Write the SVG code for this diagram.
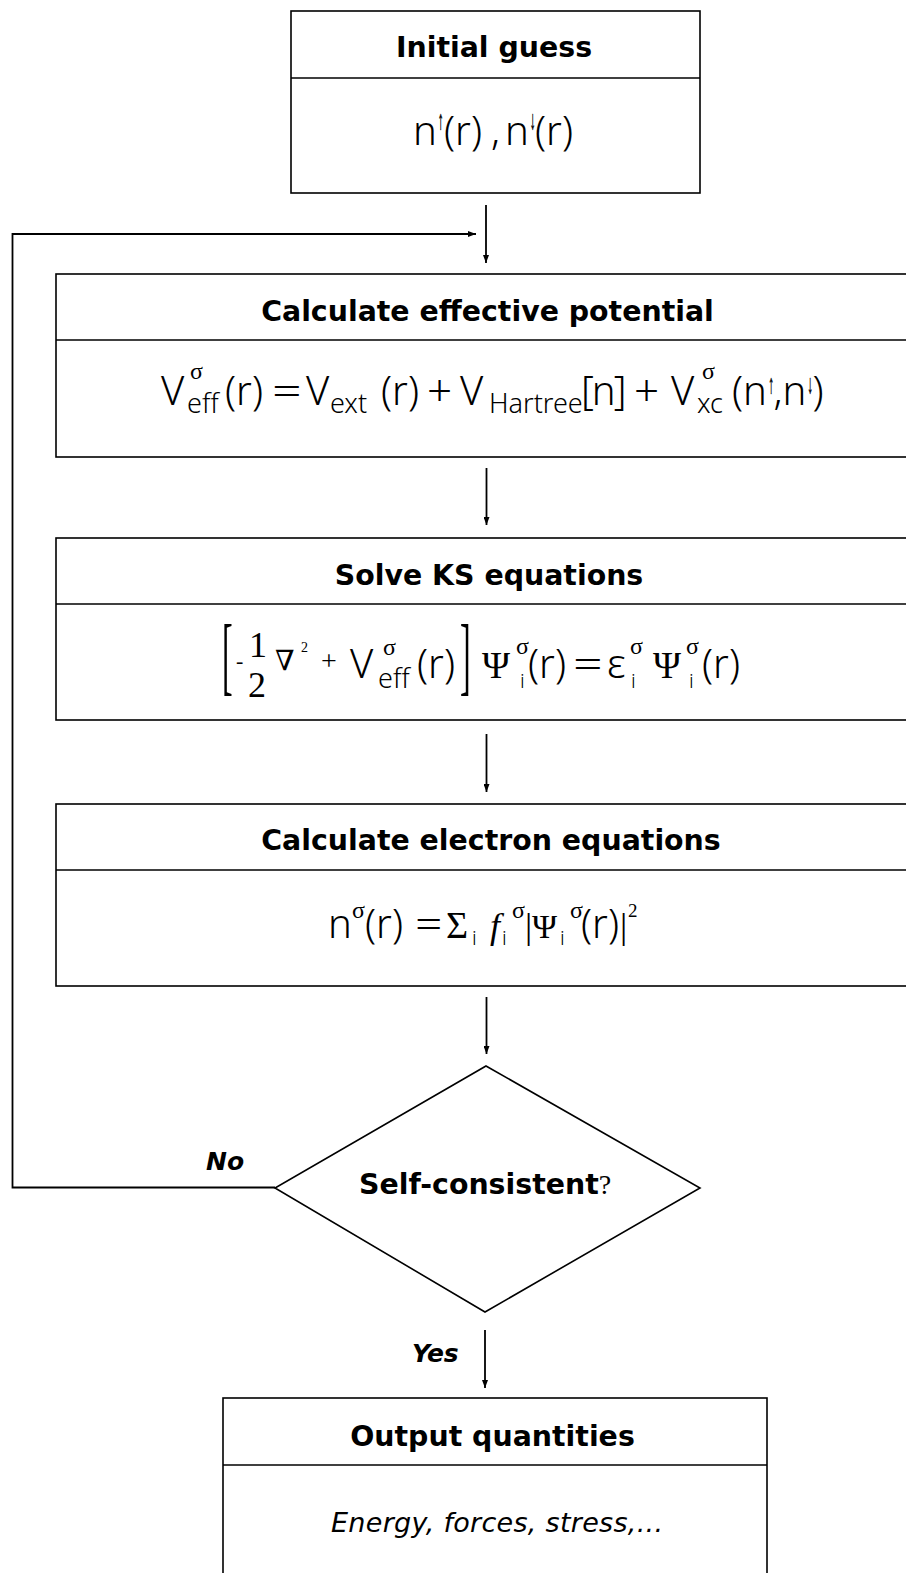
<svg xmlns="http://www.w3.org/2000/svg" width="906" height="1573" viewBox="0 0 906 1573">
<defs>
<marker id="ah" viewBox="0 0 10 10" refX="10" refY="5" markerWidth="8" markerHeight="6" orient="auto" markerUnits="userSpaceOnUse" preserveAspectRatio="none">
<path d="M0,0 L10,5 L0,10 z" fill="#000"/>
</marker>
<style>
.box{fill:#fff;stroke:#000;stroke-width:1.6}
.div{stroke:#000;stroke-width:1.6;fill:none}
.hd{font-family:"DejaVu Sans",sans-serif;font-weight:bold;font-size:28.4px;text-anchor:middle;fill:#000}
.lbl{font-family:"DejaVu Sans",sans-serif;font-weight:bold;font-style:italic;font-size:25px;fill:#000}
.body{font-family:"DejaVu Sans",sans-serif;font-style:italic;font-size:27px;fill:#000}
.m{font-family:"Noto Sans","Open Sans",sans-serif;font-weight:300;font-size:40px;fill:#000}
.sb{font-size:27px}
.si{font-size:20px}
.sg{font-family:"Liberation Serif",serif;font-weight:normal;font-size:24px}
.ser{font-family:"Liberation Serif",serif;font-weight:normal}
.ar{font-family:"Liberation Sans",sans-serif;font-weight:normal;font-size:27px;fill:#000;stroke:#000;stroke-width:0.6}
.conn{stroke:#000;stroke-width:1.8;fill:none}
</style>
</defs>

<g id="connectors">
<line class="conn" x1="486" y1="205" x2="486" y2="263" marker-end="url(#ah)"/>
<path class="conn" d="M275,1187.5 H12.5 V234 H476" marker-end="url(#ah)"/>
<line class="conn" x1="486.5" y1="468" x2="486.5" y2="525" marker-end="url(#ah)"/>
<line class="conn" x1="486.5" y1="734" x2="486.5" y2="792" marker-end="url(#ah)"/>
<line class="conn" x1="486.5" y1="997" x2="486.5" y2="1054" marker-end="url(#ah)"/>
<line class="conn" x1="485" y1="1330" x2="485" y2="1388" marker-end="url(#ah)"/>
<text class="lbl" x="206" y="1170">No</text>
<text class="lbl" x="412" y="1362">Yes</text>
</g>

<g id="initial">
<rect class="box" x="291" y="11" width="409" height="182"/>
<line class="div" x1="291" y1="78" x2="700" y2="78"/>
<text class="hd" x="494" y="57">Initial guess</text>
<text class="m"><tspan x="413" y="145">n</tspan><tspan x="444" y="145">(r)</tspan><tspan x="491" y="145">,</tspan><tspan x="505" y="145">n</tspan><tspan x="535" y="145">(r)</tspan></text>
<text class="ar" transform="translate(438,129) scale(0.4,1)">↑</text>
<text class="ar" transform="translate(530,129) scale(0.4,1)">↓</text>
</g>

<g id="potential">
<rect class="box" x="56" y="274" width="880" height="183"/>
<line class="div" x1="56" y1="340" x2="906" y2="340"/>
<text class="hd" x="487.5" y="321">Calculate effective potential</text>
<text class="m"><tspan x="161" y="405">V</tspan><tspan class="sg" x="190" y="379">σ</tspan><tspan class="sb" x="187" y="413">eff</tspan><tspan x="225" y="405">(r)</tspan><tspan x="306" y="405">V</tspan><tspan class="sb" x="330" y="413">ext</tspan><tspan x="381" y="405">(r)</tspan><tspan font-size="44" x="427" y="406">+</tspan><tspan x="460" y="405">V</tspan><tspan class="sb" x="489" y="413">Hartree</tspan><tspan x="581" y="405" letter-spacing="-2">[n]</tspan><tspan font-size="44" x="634" y="406">+</tspan><tspan x="671" y="405">V</tspan><tspan class="sg" x="702" y="379">σ</tspan><tspan class="sb" x="697" y="413">xc</tspan><tspan x="732" y="405">(n</tspan><tspan x="773.5" y="405">,n</tspan><tspan x="812.5" y="405">)</tspan></text>
<text class="m" transform="translate(272,405) scale(1.3,1)">=</text>
<text class="ar" transform="translate(768.5,393) scale(0.4,1)">↑</text>
<text class="ar" transform="translate(807.5,393) scale(0.4,1)">↓</text>
</g>

<g id="ks">
<rect class="box" x="56" y="538" width="880" height="182"/>
<line class="div" x1="56" y1="604" x2="906" y2="604"/>
<text class="hd" x="489" y="585">Solve KS equations</text>
<text class="ser" font-size="32" transform="translate(222,684) scale(1,2.7)">[</text>
<text class="ser" font-size="32" transform="translate(460,684) scale(1,2.7)">]</text>
<text class="m"><tspan class="ser" font-size="22" x="236" y="668">-</tspan><tspan class="ser" font-size="36" x="249" y="657">1</tspan><tspan class="ser" font-size="36" x="248" y="697">2</tspan><tspan font-family="DejaVu Serif, serif" font-weight="normal" font-size="28" x="275" y="670">∇</tspan><tspan class="ser" font-size="14" x="301" y="652">2</tspan><tspan class="ser" font-size="28" x="321" y="670">+</tspan><tspan x="350" y="678">V</tspan><tspan class="sg" x="383" y="655">σ</tspan><tspan class="sb" x="378" y="688">eff</tspan><tspan x="417" y="678">(r)</tspan><tspan class="ser" font-size="38" x="482" y="678">Ψ</tspan><tspan class="sg" x="516" y="654">σ</tspan><tspan class="si" x="520" y="688">i</tspan><tspan x="528" y="678">(r)</tspan><tspan x="607" y="678">ε</tspan><tspan class="sg" x="630" y="654">σ</tspan><tspan class="si" x="631" y="688">i</tspan><tspan class="ser" font-size="38" x="653" y="678">Ψ</tspan><tspan class="sg" x="686" y="654">σ</tspan><tspan class="si" x="689" y="688">i</tspan><tspan x="702" y="678">(r)</tspan></text>
<text class="m" transform="translate(573,678) scale(1.3,1)">=</text>
</g>

<g id="density">
<rect class="box" x="56" y="804" width="880" height="182"/>
<line class="div" x1="56" y1="870" x2="906" y2="870"/>
<text class="hd" x="491" y="850">Calculate electron equations</text>
<text class="m" font-size="38"><tspan x="328" y="938">n</tspan><tspan class="sg" font-size="23" x="352" y="918">σ</tspan><tspan x="365" y="938">(r)</tspan><tspan class="ser" font-size="38" x="446" y="938">Σ</tspan><tspan class="si" font-size="19" x="472" y="945">i</tspan><tspan class="ser" font-style="italic" font-size="36" x="490" y="938">f</tspan><tspan class="si" font-size="19" x="502" y="945">i</tspan><tspan class="sg" font-size="23" x="512" y="918">σ</tspan><tspan class="ser" font-size="36" x="525" y="938">|</tspan><tspan class="ser" font-size="34" x="532" y="938">Ψ</tspan><tspan class="si" font-size="19" x="560" y="945">i</tspan><tspan class="sg" font-size="23" x="570" y="918">σ</tspan><tspan x="581" y="938">(r)</tspan><tspan class="ser" font-size="36" x="620" y="938">|</tspan><tspan class="ser" font-size="19" x="628" y="917">2</tspan></text>
<text class="m" font-size="38" transform="translate(415,938) scale(1.2,1)">=</text>
</g>

<g id="decision">
<polygon class="box" points="486,1066 700,1188 485,1312 275,1188"/>
<text x="359" y="1194" font-family="DejaVu Sans, sans-serif" font-weight="bold" font-size="28.4" fill="#000">Self-consistent<tspan font-family="Liberation Serif, serif" font-weight="normal" font-size="28">?</tspan></text>
</g>

<g id="output">
<rect class="box" x="223" y="1398" width="544" height="200"/>
<line class="div" x1="223" y1="1465" x2="767" y2="1465"/>
<text class="hd" x="492.5" y="1446">Output quantities</text>
<text class="body" x="331" y="1532" textLength="332" lengthAdjust="spacing">Energy, forces, stress,...</text>
</g>
</svg>
